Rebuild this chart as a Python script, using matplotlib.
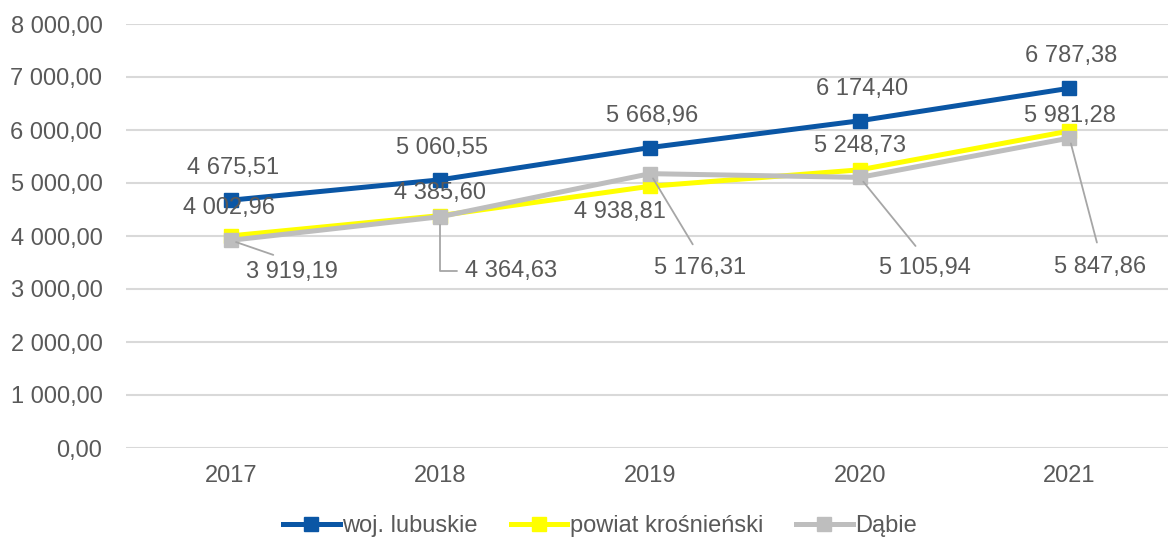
import numpy as np
import matplotlib
matplotlib.use('Agg')
import matplotlib.pyplot as plt

plt.rcParams['font.family'] = ['Liberation Sans', 'DejaVu Sans']

years = ['2017', '2018', '2019', '2020', '2021']
lubuskie = [4675.51, 5060.55, 5668.96, 6174.40, 6787.38]
krosnienski = [4002.96, 4385.60, 4938.81, 5248.73, 5981.28]
dabie = [3919.19, 4364.63, 5176.31, 5105.94, 5847.86]
y_ticks = [0, 1000, 2000, 3000, 4000, 5000, 6000, 7000, 8000]

text_col = '#595959'
blue = '#0A56A5'
yellow = '#FFFF00'
gray = '#BEBEBE'
fs = 17


def fmt(v):
    s = '{:,.2f}'.format(v)
    return s.replace(',', ' ').replace('.', ',')


fig = plt.figure(figsize=(11.68, 5.42), dpi=100)
ax = fig.add_axes([126 / 1168, 1 - 448 / 542, 1 - 126 / 1168, (448 - 24) / 542])

x = np.arange(len(years))
ax.plot(x, lubuskie, color=blue, lw=3.6, marker='s', ms=10, label='woj. lubuskie', zorder=5)
ax.plot(x, krosnienski, color=yellow, lw=3.6, marker='s', ms=10, label='powiat krośnieński', zorder=3)
ax.plot(x, dabie, color=gray, lw=3.6, marker='s', ms=10, label='Dąbie', zorder=4)

ax.set_xlim(-0.5, 4.47)
ax.set_ylim(0, 8000)
ax.set_yticks(y_ticks)
ax.set_yticklabels([fmt(v) for v in y_ticks])
ax.set_xticks(x)
ax.set_xticklabels(years)
ax.tick_params(axis='both', length=0, labelsize=fs, colors=text_col)
ax.tick_params(axis='y', pad=17)
ax.tick_params(axis='x', pad=12)
ax.grid(axis='y', color='#D9D9D9', lw=1.5)
ax.set_axisbelow(True)
for s in ax.spines.values():
    s.set_visible(False)

# blue labels, above
for i, v in enumerate(lubuskie):
    ax.annotate(fmt(v), (i, v), xytext=(2, 32), textcoords='offset pixels',
                ha='center', va='center', fontsize=fs, color=text_col)

# yellow labels
y_off = [(-2, 28), (0, 23), (-30, -26), (0, 24), (0, 15)]
for i, v in enumerate(krosnienski):
    ax.annotate(fmt(v), (i, v), xytext=y_off[i], textcoords='offset pixels',
                ha='center', va='center', fontsize=fs, color=text_col, zorder=6)

# gray labels with leader lines
g_off = [(61, -32), (71, -54), (50, -94), (65, -91), (31, -129)]
for i, v in enumerate(dabie):
    if i == 1:
        arrow = dict(arrowstyle='-', color='#A6A6A6', lw=1.3, relpos=(0, 0.5),
                     shrinkA=4, shrinkB=6,
                     connectionstyle='angle,angleA=0,angleB=90,rad=0')
    else:
        arrow = dict(arrowstyle='-', color='#A6A6A6', lw=1.3, relpos=(0.5, 1),
                     shrinkA=8, shrinkB=4)
    ax.annotate(fmt(v), (i, v), xytext=g_off[i], textcoords='offset pixels',
                ha='center', va='center', fontsize=fs, color=text_col,
                arrowprops=arrow, zorder=6)

fig.legend(loc='lower center', bbox_to_anchor=(600 / 1168, -0.03), ncol=3,
           frameon=False, fontsize=fs, labelcolor=text_col, handlelength=2.4,
           handletextpad=0.1, columnspacing=1.4, markerscale=1.0)

fig.savefig('out.png', dpi=100)
